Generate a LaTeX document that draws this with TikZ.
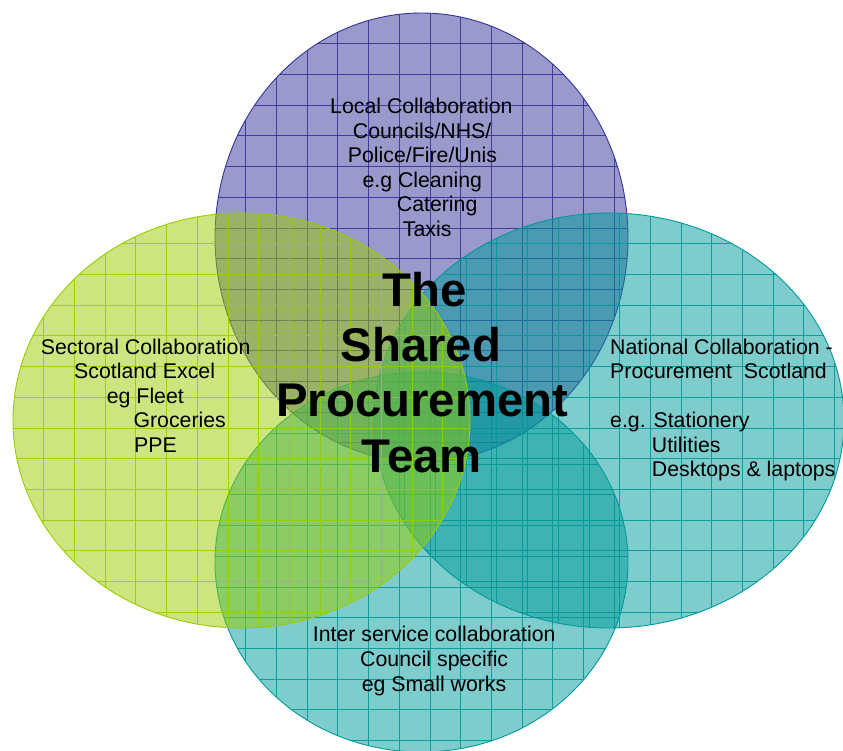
\documentclass[tikz,border=0pt]{standalone}
\usepackage{fontspec}
\setmainfont{Liberation Sans}
\definecolor{cPurple}{RGB}{51,51,153}
\definecolor{cYellow}{RGB}{153,204,0}
\definecolor{cTeal}{RGB}{0,153,153}
\tikzset{
  bodytext/.style={anchor=base west, inner sep=0pt, text=black, font=\fontsize{21.3}{24.5}\selectfont},
  titletext/.style={anchor=base, inner sep=0pt, text=black, font=\fontsize{47.3}{55}\selectfont\bfseries},
  gridline/.style={line width=0.65pt, draw opacity=0.9},
  rim/.style={line width=0.9pt},
}
% #1 colour, #2 cx, #3 cy, #4 rx, #5 ry
\newcommand\vennblob[5]{%
  \begin{scope}
    \path[clip] (#2,#3) ellipse [x radius=#4, y radius=#5];
    \fill[#1, fill opacity=0.5] (#2,#3) ellipse [x radius=#4, y radius=#5];
    \foreach \i in {1,...,16} {
      \draw[#1, gridline] ({#2-#4+\i*30.7},{#3-#5}) -- ++(0,{2*#5});
      \draw[#1, gridline] ({#2-#4},{#3-#5+\i*30.7}) -- ++({2*#4},0);
    }
  \end{scope}
  \draw[#1, rim] (#2,#3) ellipse [x radius=#4, y radius=#5];
}
\begin{document}
\begin{tikzpicture}[x=1pt, y=-1pt]
  \useasboundingbox (0,0) rectangle (843,751);
  % circles
  \vennblob{cPurple}{421.5}{237.5}{206.5}{224.5}
  \vennblob{cTeal}{609}{420.5}{235}{207.5}
  \vennblob{cTeal}{421.5}{562}{206.5}{190}
  \vennblob{cYellow}{241.5}{420.5}{228.5}{207.5}

  % top block
  \node[bodytext] (t1) at (330,114) {Local Collaboration};
  \node[bodytext] (t2) at (352.7,139) {Councils/NHS/};
  \node[bodytext] (t3) at (347.7,163) {Police/Fire/Unis};
  \node[bodytext] (t4) at (362.3,188) {e.g Cleaning};
  \node[bodytext] (t5) at (396.7,212) {Catering};
  \node[bodytext] (t6) at (402.7,237) {Taxis};

  % left block
  \node[bodytext] (l1) at (40.7,354) {Sectoral Collaboration};
  \node[bodytext] (l2) at (74,378.5) {Scotland Excel};
  \node[bodytext] (l3) at (106.7,403) {eg Fleet};
  \node[bodytext] (l4) at (133.3,427.5) {Groceries};
  \node[bodytext] (l5) at (134,452) {PPE};

  % right block
  \node[bodytext] (r1) at (610,354) {National Collaboration -};
  \node[bodytext] (r2) at (610,378.5) {Procurement\ \ Scotland};
  \node[bodytext] (r3) at (610,427.5) {e.g. Stationery};
  \node[bodytext] (r4) at (651.7,452) {Utilities};
  \node[bodytext] (r5) at (651.7,476.5) {Desktops \& laptops};

  % bottom block
  \node[bodytext] (b1) at (312.7,641.7) {Inter service collaboration};
  \node[bodytext] (b2) at (360,666.7) {Council specific};
  \node[bodytext] (b3) at (361.7,691) {eg Small works};

  % title
  \node[titletext] (c1) at (425,306.7) {The};
  \node[titletext] (c2) at (421,361.7) {Shared};
  \node[titletext] (c3) at (422.3,416.7) {Procurement};
  \node[titletext] (c4) at (422,472.5) {Team};
\end{tikzpicture}
\end{document}
